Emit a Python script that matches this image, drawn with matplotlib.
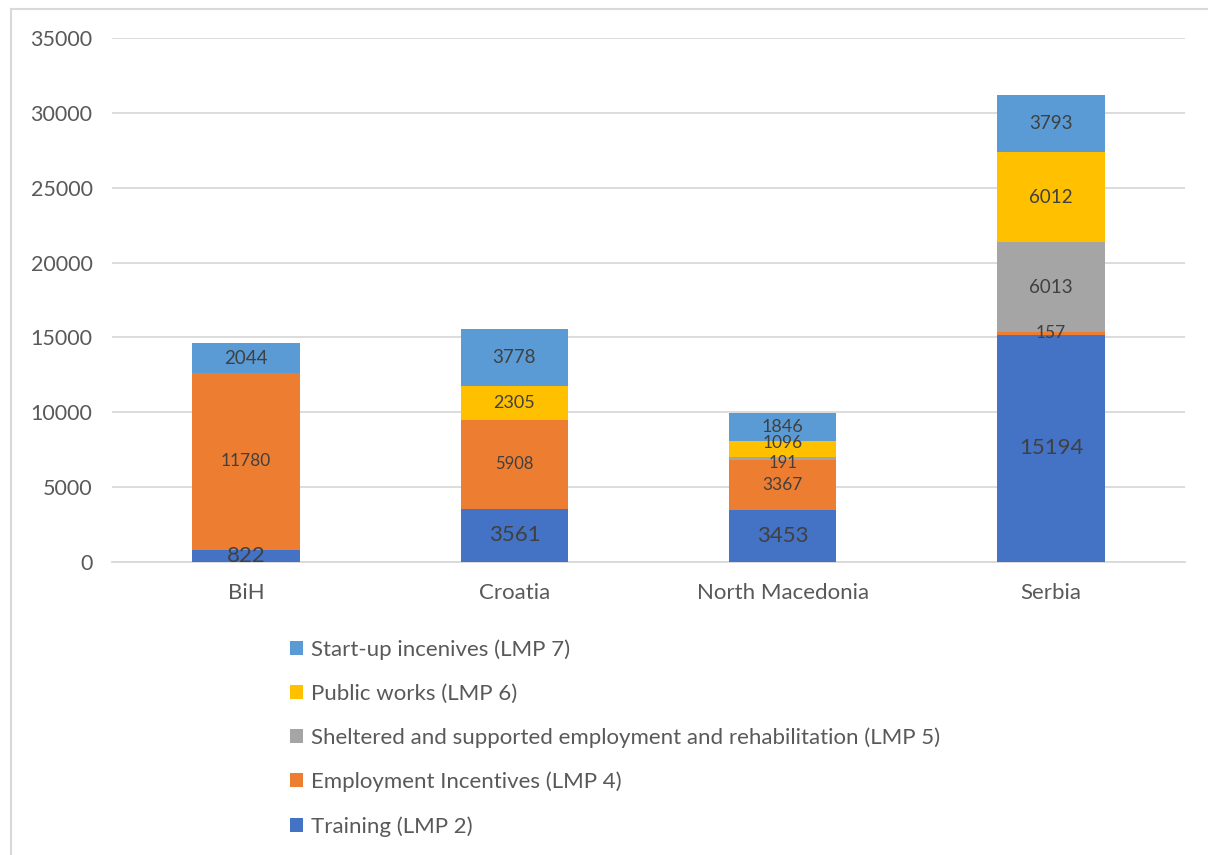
import matplotlib
matplotlib.use('Agg')
import matplotlib.pyplot as plt
from matplotlib.lines import Line2D
import numpy as np

plt.rcParams['font.family'] = ['Lato', 'DejaVu Sans']

countries = ['BiH', 'Croatia', 'North Macedonia', 'Serbia']
training = [822, 3561, 3453, 15194]
employment = [11780, 5908, 3367, 157]
sheltered = [0, 0, 191, 6013]
public_works = [0, 2305, 1096, 6012]
startup = [2044, 3778, 1846, 3793]

series = [
    ('Training (LMP 2)', training, '#4472C4'),
    ('Employment Incentives (LMP 4)', employment, '#ED7D31'),
    ('Sheltered and supported employment and rehabilitation (LMP 5)', sheltered, '#A5A5A5'),
    ('Public works (LMP 6)', public_works, '#FFC000'),
    ('Start-up incenives (LMP 7)', startup, '#5B9BD5'),
]

# label font sizes differ per series in the original (training labels bigger)
label_sizes = {
    'Training (LMP 2)': [16, 16, 16, 16],
    'Employment Incentives (LMP 4)': [12.5, 12, 12.5, 12.5],
    'Sheltered and supported employment and rehabilitation (LMP 5)': [12.5, 12.5, 12, 13.5],
    'Public works (LMP 6)': [12.5, 13, 12.5, 13.5],
    'Start-up incenives (LMP 7)': [13.5, 13.5, 13, 13.5],
}
# small vertical nudges (points) for the crowded North Macedonia labels
label_nudge = {
    ('Public works (LMP 6)', 2): 4,
    ('Sheltered and supported employment and rehabilitation (LMP 5)', 2): -3,
}

fig = plt.figure(figsize=(12.08, 8.55), dpi=100)
ax = fig.add_axes([0.0927, 0.3427, 0.8883, 0.6129])

x = np.arange(len(countries))
bottom = np.zeros(len(countries))
handles = []
for name, vals, color in series:
    vals = np.array(vals, dtype=float)
    bars = ax.bar(x, vals, bottom=bottom, width=0.4, color=color, label=name, zorder=3)
    handles.append(bars)
    for i, v in enumerate(vals):
        if v > 0:
            ax.annotate('{:d}'.format(int(v)), (x[i], bottom[i] + v / 2),
                        xytext=(0, label_nudge.get((name, i), 0)), textcoords='offset points',
                        ha='center', va='center', fontsize=label_sizes[name][i],
                        color='#404040', zorder=4)
    bottom += vals

ax.set_xlim(-0.5, len(countries) - 0.5)
ax.set_ylim(0, 35000)
ax.set_yticks(np.arange(0, 35001, 5000))
ax.set_xticks(x)
ax.set_xticklabels(countries)
ax.yaxis.grid(True, color='#d9d9d9', linewidth=1.3, zorder=0)
for s in ['top', 'right', 'left']:
    ax.spines[s].set_visible(False)
ax.spines['bottom'].set_color('#d9d9d9')
ax.spines['bottom'].set_linewidth(1.3)
ax.tick_params(axis='both', length=0, colors='#595959')
ax.tick_params(axis='y', labelsize=15.5, pad=14)
ax.tick_params(axis='x', labelsize=16, pad=15)

# legend below, reversed order, one column
leg = fig.legend(handles[::-1], [s[0] for s in series][::-1], loc='upper left',
                 bbox_to_anchor=(0.2325, 0.263), frameon=False, fontsize=16,
                 handlelength=0.6, handleheight=0.6, handletextpad=0.35,
                 labelspacing=1.07, borderaxespad=0)
for t in leg.get_texts():
    t.set_color('#595959')

# chart area border (left and top visible)
fig.add_artist(Line2D([0.0095, 0.0095], [0.0, 0.9895], color='#d9d9d9', linewidth=1.5))
fig.add_artist(Line2D([0.0095, 1.0], [0.9895, 0.9895], color='#d9d9d9', linewidth=1.5))

fig.savefig('out.png', dpi=100)
